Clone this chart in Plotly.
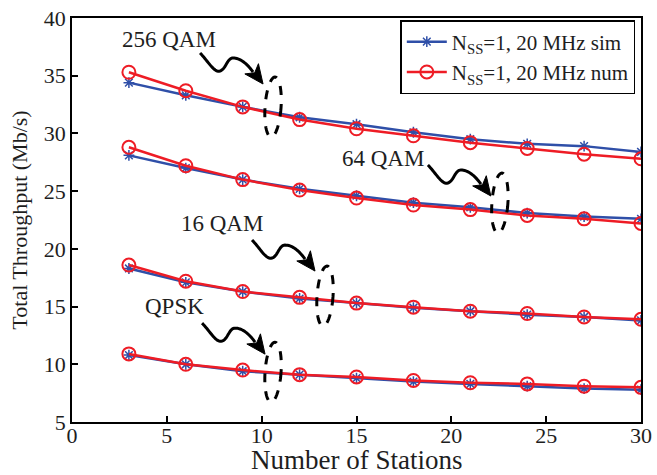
import numpy as np
import plotly.graph_objects as go

# ---- data -------------------------------------------------------------
stations = [3, 6, 9, 12, 15, 18, 21, 24, 27, 30]

sim_256qam = [34.4, 33.3, 32.3, 31.4, 30.8, 30.1, 29.5, 29.1, 28.9, 28.4]
num_256qam = [35.3, 33.7, 32.3, 31.2, 30.4, 29.8, 29.2, 28.7, 28.2, 27.8]

sim_64qam = [28.1, 27.0, 26.0, 25.2, 24.6, 24.0, 23.6, 23.1, 22.8, 22.6]
num_64qam = [28.8, 27.2, 26.0, 25.1, 24.4, 23.8, 23.4, 22.9, 22.6, 22.2]

sim_16qam = [18.3, 17.1, 16.3, 15.7, 15.3, 14.9, 14.6, 14.3, 14.1, 13.8]
num_16qam = [18.6, 17.2, 16.3, 15.8, 15.3, 14.95, 14.6, 14.4, 14.1, 13.9]

sim_qpsk = [10.8, 10.0, 9.4, 9.1, 8.8, 8.5, 8.3, 8.1, 7.9, 7.8]
num_qpsk = [10.9, 10.0, 9.5, 9.1, 8.9, 8.6, 8.4, 8.3, 8.1, 8.0]

sim_series = [sim_256qam, sim_64qam, sim_16qam, sim_qpsk]
num_series = [num_256qam, num_64qam, num_16qam, num_qpsk]

sim_name = "N<sub>SS</sub>=1, 20 MHz sim"
num_name = "N<sub>SS</sub>=1, 20 MHz num"
x_title = "Number of Stations"
y_title = "Total Throughput (Mb/s)"

# modulation callouts: label, label position, ellipse centre (data units)
callout_labels = ["256 QAM", "64 QAM", "16 QAM", "QPSK"]
label_pos = [(5.11, 38.1), (16.4, 27.87), (7.91, 22.24), (5.38, 15.0)]
ellipse_pos = [(10.6, 32.29), (22.56, 23.97), (13.34, 15.91), (10.6, 9.32)]
# start of the wavy arrow, in pixels from the ellipse centre (right, down)
arrow_start = [(-73, -54), (-72, -38), (-73, -56), (-71, -49)]

BLUE = "#2f4fa8"
RED = "#ee1c25"
TEXT = "#1e1e1e"
FONT = "Liberation Serif, Times New Roman, serif"

fig = go.Figure()

for i, ys in enumerate(sim_series):
    fig.add_trace(go.Scatter(
        x=stations, y=ys, mode="lines+markers", name=sim_name,
        legendgroup="sim", showlegend=(i == 0),
        line=dict(color=BLUE, width=2.5),
        marker=dict(symbol="asterisk-open", size=9,
                    line=dict(color=BLUE, width=1.5)),
    ))
for i, ys in enumerate(num_series):
    fig.add_trace(go.Scatter(
        x=stations, y=ys, mode="lines+markers", name=num_name,
        legendgroup="num", showlegend=(i == 0),
        line=dict(color=RED, width=2.5),
        marker=dict(symbol="circle-open", size=13,
                    line=dict(color=RED, width=2)),
    ))


# ---- callout drawing helpers (pixel offsets, y pointing down) --------
def bezier(p0, p1, p2, p3, n=20):
    t = np.linspace(0, 1, n)[:, None]
    p = [np.array(v, dtype=float) for v in (p0, p1, p2, p3)]
    return ((1 - t) ** 3) * p[0] + 3 * ((1 - t) ** 2) * t * p[1] \
        + 3 * (1 - t) * t ** 2 * p[2] + t ** 3 * p[3]


def to_path(pts, close=False):
    s = "M " + " L ".join(f"{x:.2f},{-y:.2f}" for x, y in pts)
    return s + (" Z" if close else "")


def squiggle(sx, sy):
    segs = [
        bezier((0, 0), (8, 8), (14, 20), (20, 18)),
        bezier((20, 18), (26, 16), (27, 5), (33, 5)),
        bezier((33, 5), (41, 5), (48, 12), (53, 19)),
    ]
    pts = np.vstack(segs) + np.array([sx, sy])
    return to_path(pts)


def arrow_head(sx, sy):
    tip = np.array([63.0, 31.0])
    d = np.array([0.6, 0.8])
    d /= np.linalg.norm(d)
    n = np.array([-d[1], d[0]])
    length, half = 19.0, 8.5
    back = tip - d * length
    notch = tip - d * (length - 5)
    pts = [tip, back + n * half, notch, back - n * half]
    pts = np.array(pts) + np.array([sx, sy])
    return to_path(pts, close=True)


def ellipse(rx=8.0, ry=30.0, tilt_deg=4.0):
    t = np.linspace(0, 2 * np.pi, 60)
    a = np.deg2rad(tilt_deg)
    x = rx * np.cos(t)
    y = ry * np.sin(t)
    xr = x * np.cos(a) - y * np.sin(a)
    yr = x * np.sin(a) + y * np.cos(a)
    return to_path(np.column_stack([xr, yr]), close=True)


shapes = []
annotations = []
for label, (lx, ly), (ex, ey), (sx, sy) in zip(
        callout_labels, label_pos, ellipse_pos, arrow_start):
    common = dict(type="path", xref="x", yref="y",
                  xsizemode="pixel", ysizemode="pixel",
                  xanchor=ex, yanchor=ey, layer="above")
    shapes.append(dict(common, path=ellipse(),
                       line=dict(color="black", width=3, dash="dash")))
    shapes.append(dict(common, path=squiggle(sx, sy),
                       line=dict(color="black", width=3)))
    shapes.append(dict(common, path=arrow_head(sx, sy),
                       fillcolor="black", line=dict(color="black", width=1)))
    annotations.append(dict(x=lx, y=ly, xref="x", yref="y", text=label,
                            showarrow=False,
                            font=dict(family=FONT, size=23, color=TEXT)))

# x-axis title placed just below the tick labels
annotations.append(dict(x=0.5, y=-0.095, xref="paper", yref="paper",
                        xanchor="center", yanchor="middle", showarrow=False,
                        text=x_title,
                        font=dict(family=FONT, size=27, color=TEXT)))

axis_common = dict(
    showline=True, mirror=True, linecolor="black", linewidth=1.8,
    ticks="inside", ticklen=6, tickwidth=1.5, tickcolor="black",
    showgrid=False, zeroline=False, automargin=False,
    tickfont=dict(family=FONT, size=22, color=TEXT),
)

fig.update_layout(
    width=657, height=475,
    margin=dict(l=72, r=16, t=18, b=53),
    paper_bgcolor="white", plot_bgcolor="white",
    xaxis=dict(axis_common, range=[0, 30], dtick=5, ticklabelstandoff=-7),
    yaxis=dict(axis_common, range=[5, 40], dtick=5,
               title=dict(text=y_title, standoff=10,
                          font=dict(family=FONT, size=22, color=TEXT))),
    legend=dict(x=0.99, y=0.995, xanchor="right", yanchor="top",
                bgcolor="white", bordercolor="black", borderwidth=1.5,
                font=dict(family=FONT, size=21, color=TEXT),
                tracegroupgap=0, itemwidth=40),
    shapes=shapes,
    annotations=annotations,
    showlegend=True,
)

fig.write_html("out.html")
